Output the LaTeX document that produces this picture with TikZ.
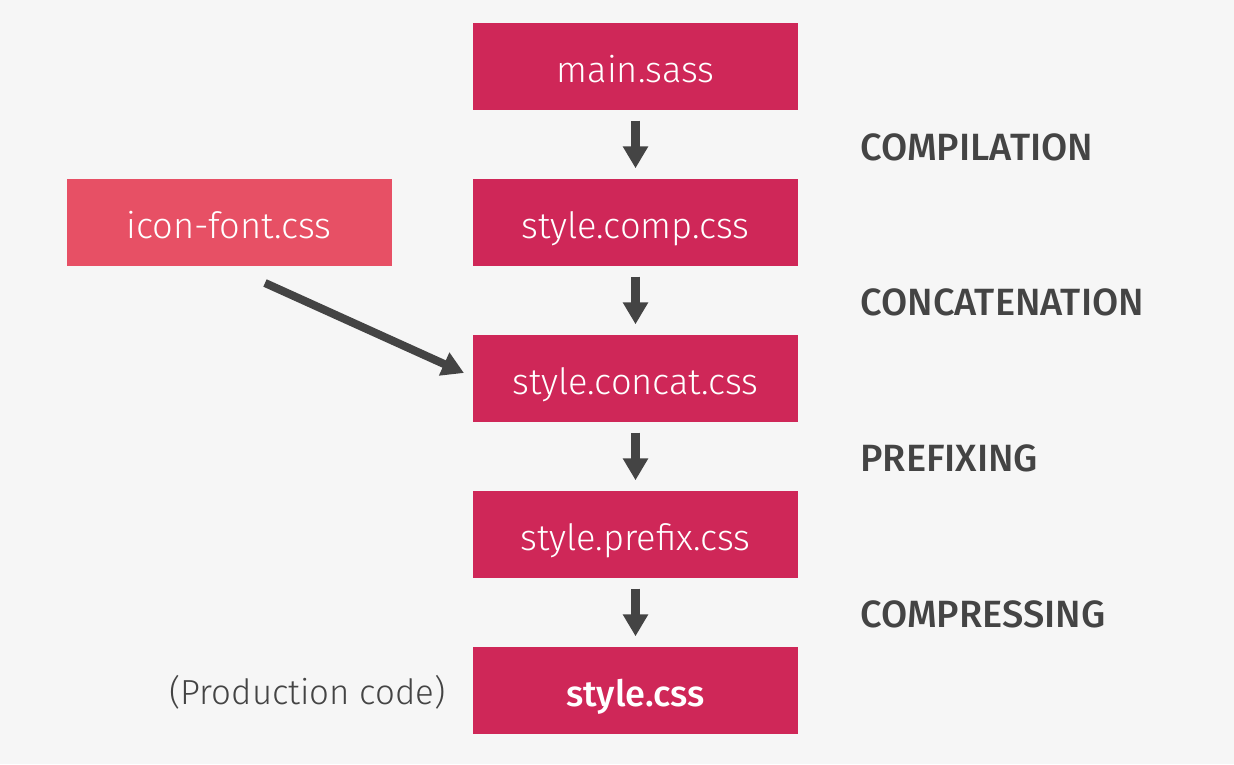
\documentclass[tikz,border=0pt]{standalone}
\usepackage{fontspec}
\setmainfont{Fira Sans}[UprightFont=* Light, BoldFont=* Medium]
\usetikzlibrary{arrows.meta}
\definecolor{bgc}{HTML}{F6F6F6}
\definecolor{stepred}{HTML}{CF2758}
\definecolor{sidered}{HTML}{E75065}
\definecolor{ink}{HTML}{444444}
\begin{document}
\begin{tikzpicture}[x=0.01cm,y=-0.01cm,
  filebox/.style={fill=stepred, text=white, minimum width=325*0.01cm, minimum height=87*0.01cm, inner sep=0pt, text height=9pt, text depth=0pt, font=\fontsize{10.3}{12}\selectfont},
  sidebox/.style={filebox, fill=sidered},
  phase/.style={anchor=west, text=ink, font=\fontsize{10.8}{12}\selectfont\bfseries},
  flow/.style={draw=ink, line width=2.3pt, -{Triangle[width=6.8pt,length=6.2pt]}}]
\fill[bgc] (0,0) rectangle (1234,764);
\useasboundingbox (0,0) rectangle (1234,764);
% main pipeline
\node[filebox] (sass) at (635.5,66.5) {main.sass};
\node[filebox] (comp) at (635.5,222.5) {style.comp.css};
\node[filebox] (concat) at (635.5,378.5) {style.concat.css};
\node[filebox] (prefix) at (635.5,534.5) {style.prefix.css};
\node[filebox, font=\fontsize{10.3}{12}\selectfont\bfseries] (out) at (635.5,690.5) {style.css};
\node[sidebox] (icon) at (229,223) {icon-font.css};
% phase labels
\node[phase] (l1) at (848,147) {COMPILATION};
\node[phase] (l2) at (848,302) {CONCATENATION};
\node[phase] (l3) at (848,458) {PREFIXING};
\node[phase] (l4) at (848,614) {COMPRESSING};
\node[anchor=east, text=ink, font=\fontsize{9.9}{12}\selectfont] (prod) at (458,692) {(Production code)};
% arrows between steps
\draw[flow] ([yshift=-10*0.01cm]sass.south) -- ([yshift=10*0.01cm]comp.north);
\draw[flow] ([yshift=-10*0.01cm]comp.south) -- ([yshift=10*0.01cm]concat.north);
\draw[flow] ([yshift=-10*0.01cm]concat.south) -- ([yshift=10*0.01cm]prefix.north);
\draw[flow] ([yshift=-10*0.01cm]prefix.south) -- ([yshift=10*0.01cm]out.north);
\coordinate (iconfoot) at (265,283);
\coordinate (concatin) at (464,373);
\draw[flow] (iconfoot) -- (concatin);
\end{tikzpicture}
\end{document}
